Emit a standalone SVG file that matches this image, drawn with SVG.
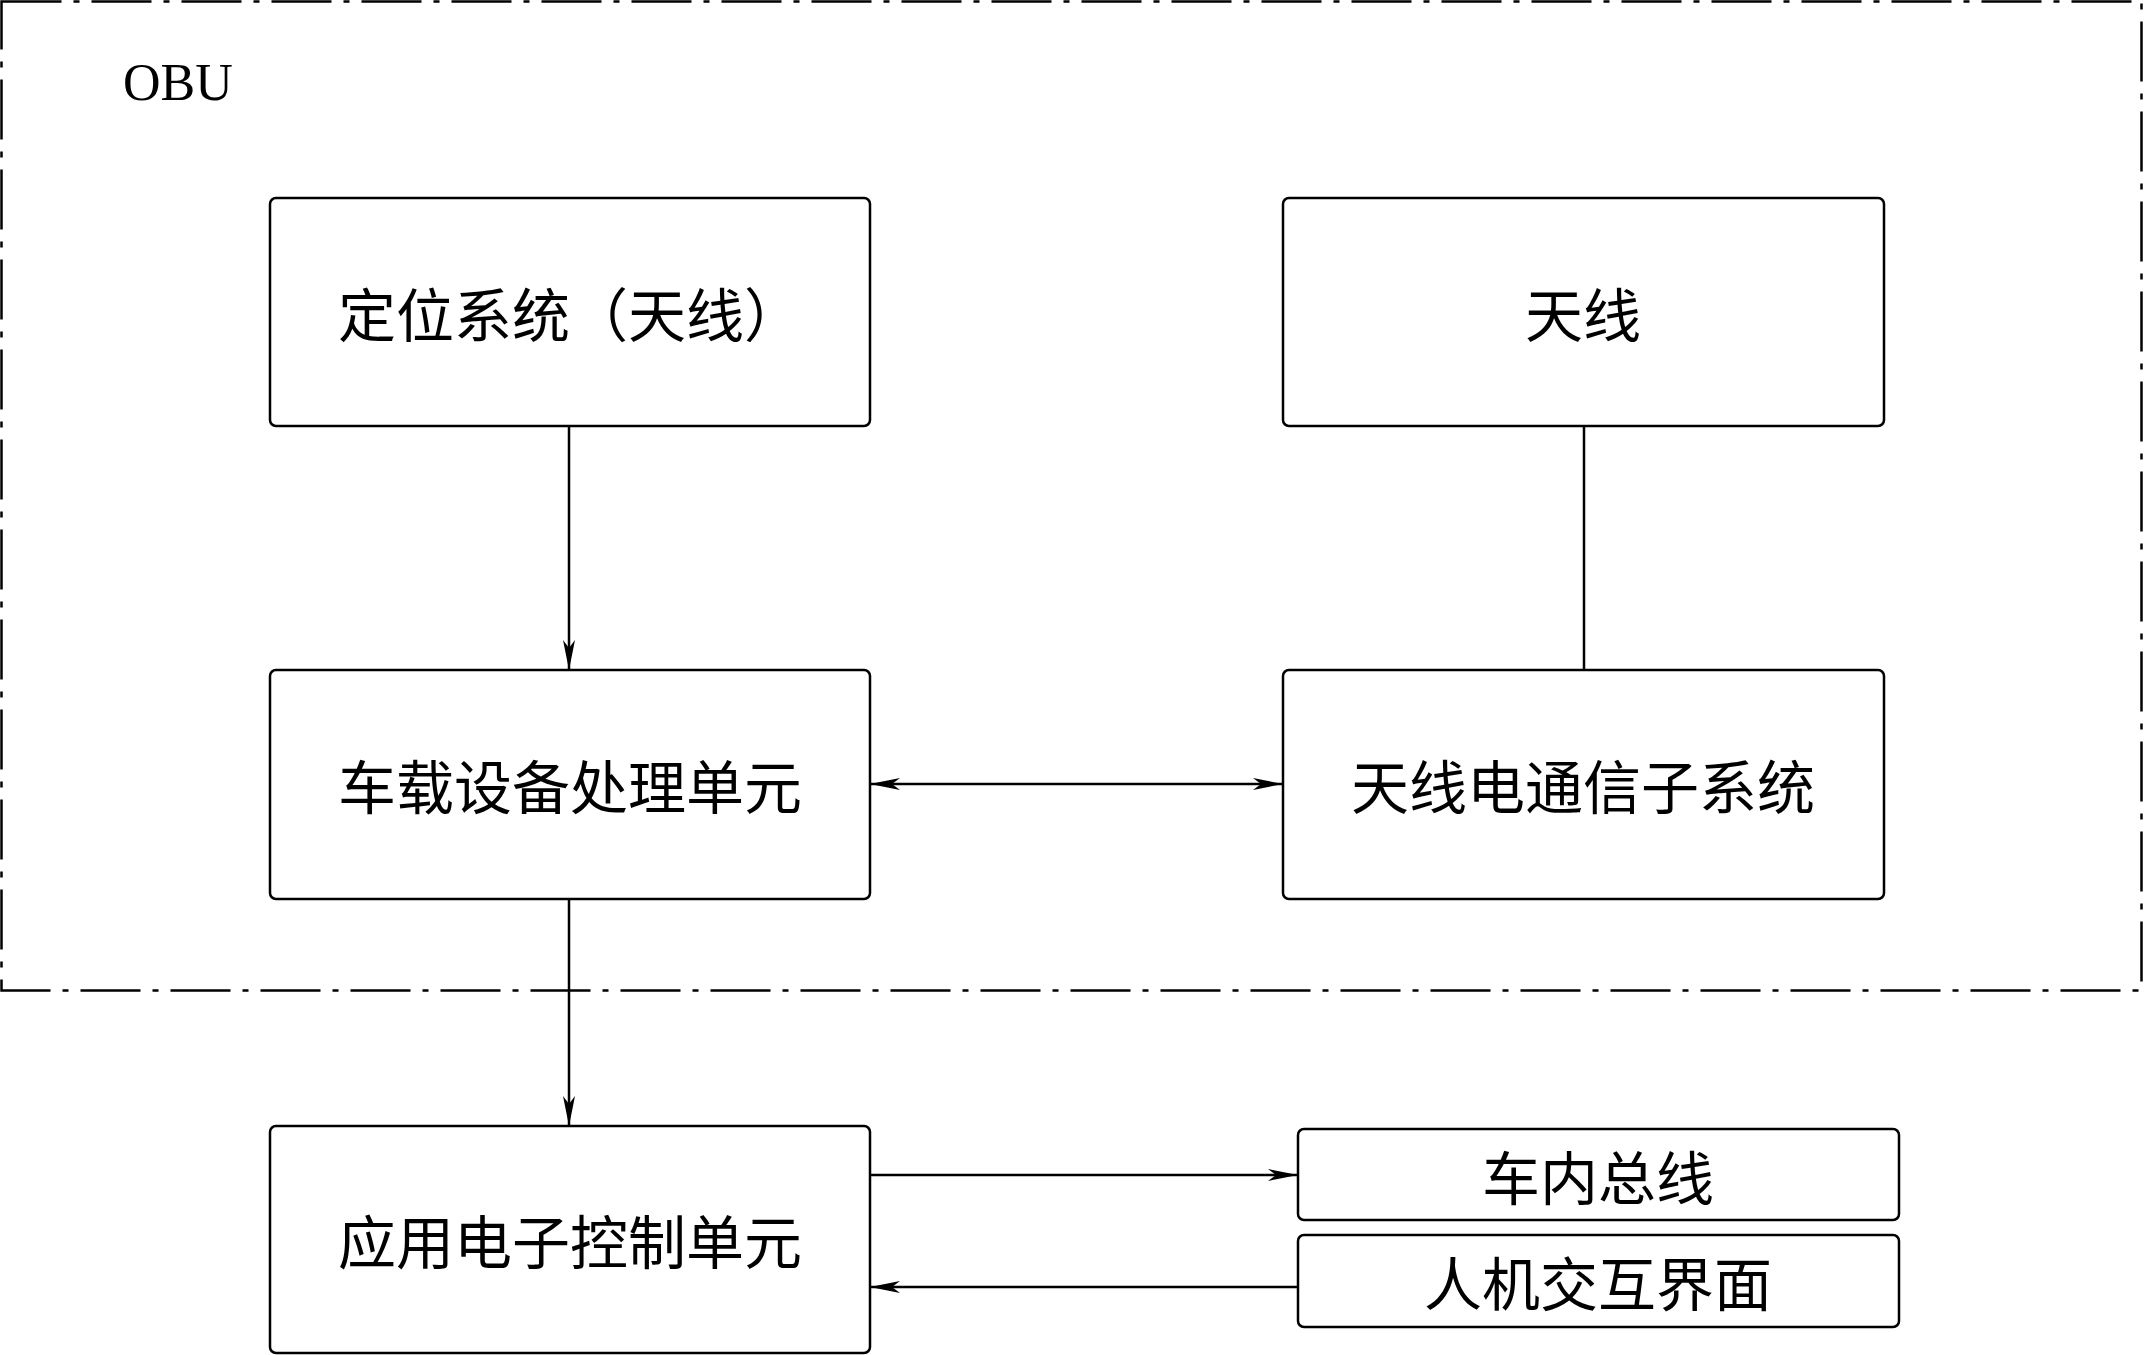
<svg xmlns="http://www.w3.org/2000/svg" width="2145" height="1355" viewBox="0 0 2145 1355">
<style>
.b{fill:#fff;stroke:#000;stroke-width:2.5}
.t{font-family:"Noto Sans CJK SC","Liberation Serif",serif;font-size:58px;text-anchor:middle;dominant-baseline:central;fill:#000}
.c{stroke:#000;stroke-width:2.5;fill:none}
</style>
<defs>
<marker id="a" viewBox="0 0 30 12" refX="30" refY="6" markerWidth="30" markerHeight="12" markerUnits="userSpaceOnUse" orient="auto-start-reverse">
<path d="M0,0 L30,6 L0,12 L8,6 Z" fill="#000"/>
</marker>
</defs>
<rect x="1.5" y="1.5" width="2140" height="989" fill="none" stroke="#000" stroke-width="2.5" stroke-dasharray="60,12,6,12"/>
<text x="123" y="82" font-family="Liberation Serif,serif" font-size="52" dominant-baseline="central">OBU</text>
<g id="n1"><rect class="b" x="270" y="198" width="600" height="228" rx="6"/><text class="t" x="570" y="312">定位系统（天线）</text></g>
<g id="n2"><rect class="b" x="1283" y="198" width="601" height="228" rx="6"/><text class="t" x="1583" y="312">天线</text></g>
<g id="n3"><rect class="b" x="270" y="670" width="600" height="229" rx="6"/><text class="t" x="570" y="784">车载设备处理单元</text></g>
<g id="n4"><rect class="b" x="1283" y="670" width="601" height="229" rx="6"/><text class="t" x="1583" y="784">天线电通信子系统</text></g>
<g id="n5"><rect class="b" x="270" y="1126" width="600" height="227" rx="6"/><text class="t" x="570" y="1239">应用电子控制单元</text></g>
<g id="n6"><rect class="b" x="1298" y="1129" width="601" height="91" rx="6"/><text class="t" x="1598" y="1175">车内总线</text></g>
<g id="n7"><rect class="b" x="1298" y="1235" width="601" height="92" rx="6"/><text class="t" x="1598" y="1281">人机交互界面</text></g>
<g id="connectors">
<line class="c" x1="569" y1="426" x2="569" y2="670" marker-end="url(#a)"/>
<line class="c" x1="1584" y1="426" x2="1584" y2="670"/>
<line class="c" x1="870" y1="784" x2="1283" y2="784" marker-start="url(#a)" marker-end="url(#a)"/>
<line class="c" x1="569" y1="899" x2="569" y2="1126" marker-end="url(#a)"/>
<line class="c" x1="870" y1="1175" x2="1298" y2="1175" marker-end="url(#a)"/>
<line class="c" x1="1298" y1="1287" x2="870" y2="1287" marker-end="url(#a)"/>
</g>
</svg>
